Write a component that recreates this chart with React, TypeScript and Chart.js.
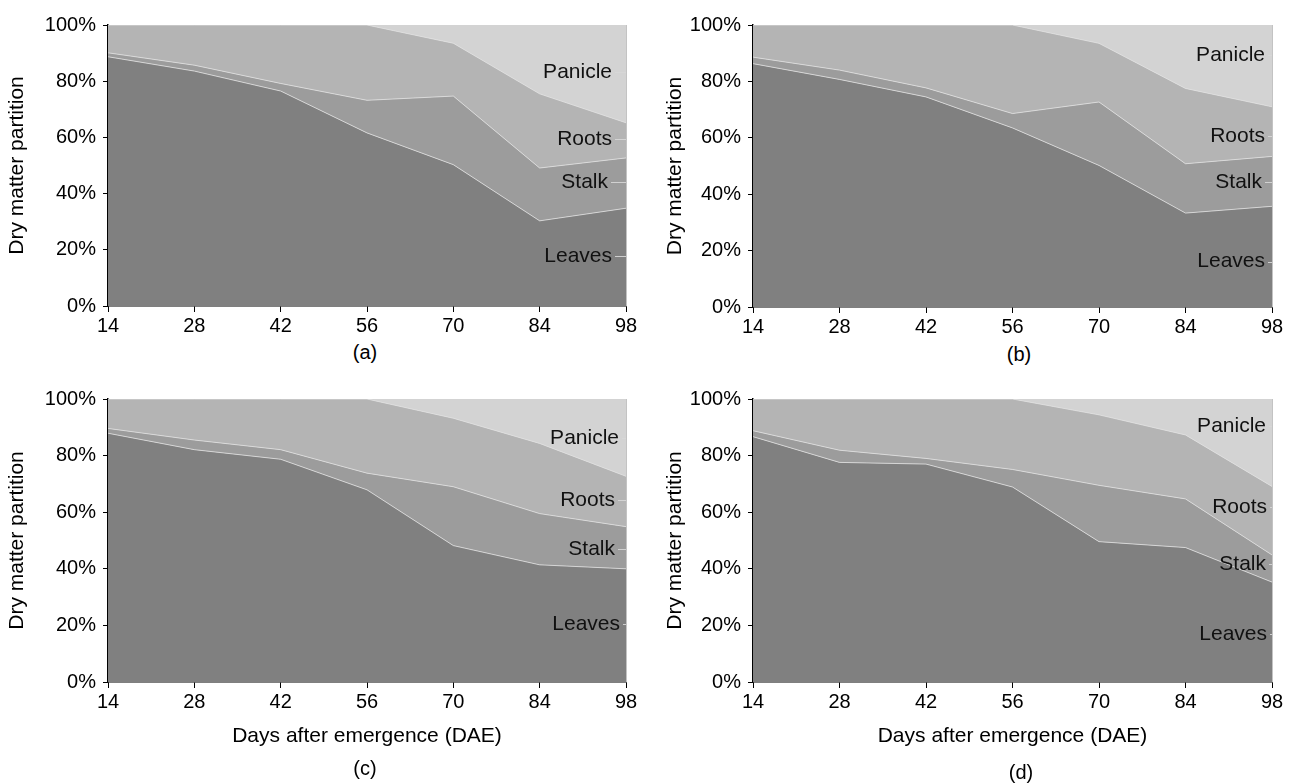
import React, { useEffect, useRef } from "react";
import { Chart, registerables } from "chart.js";

Chart.register(...registerables);

const days = [14, 28, 42, 56, 70, 84, 98];
const yTicks = [0, 20, 40, 60, 80, 100];
const seriesNames = ["Leaves", "Stalk", "Roots", "Panicle"];

// panel (a)
const leavesA = [88.7, 83.6, 76.5, 61.6, 50.3, 30.3, 34.8];
const stalkA = [1.4, 2.1, 2.7, 11.6, 24.4, 18.8, 17.9];
const rootsA = [9.9, 14.3, 20.8, 26.8, 18.8, 26.4, 12.5];
const panicleA = [0, 0, 0, 0, 6.5, 24.5, 34.8];
// panel (b)
const leavesB = [86.3, 80.7, 74.5, 63.5, 50.2, 33.3, 35.7];
const stalkB = [2.3, 3.3, 3.2, 5.1, 22.5, 17.5, 17.7];
const rootsB = [11.4, 16.0, 22.3, 31.4, 20.8, 26.7, 17.6];
const panicleB = [0, 0, 0, 0, 6.5, 22.5, 29.0];
// panel (c)
const leavesC = [87.9, 82.1, 78.7, 67.9, 48.2, 41.4, 40.0];
const stalkC = [1.7, 3.4, 3.4, 5.9, 20.8, 18.1, 14.9];
const rootsC = [10.4, 14.5, 17.9, 26.2, 24.2, 24.8, 17.8];
const panicleC = [0, 0, 0, 0, 6.8, 15.7, 27.3];
// panel (d)
const leavesD = [86.7, 77.6, 77.0, 68.9, 49.6, 47.5, 35.3];
const stalkD = [2.1, 4.3, 2.0, 6.2, 19.9, 17.2, 9.6];
const rootsD = [11.2, 18.1, 21.0, 24.9, 24.9, 22.6, 24.2];
const panicleD = [0, 0, 0, 0, 5.6, 12.7, 30.9];

// in-plot series label anchor values (in % units) for Panicle, Roots, Stalk, Leaves
const labelValuesA = [83.3, 59.5, 44.0, 17.8];
const labelValuesB = [89.2, 60.5, 44.2, 16.1];
const labelValuesC = [86.1, 64.4, 47.0, 20.4];
const labelValuesD = [90.3, 61.8, 41.6, 17.0];
const labelNames = ["Panicle", "Roots", "Stalk", "Leaves"];

const yTitle = "Dry matter partition";
const xTitle = "Days after emergence (DAE)";
const captions = ["(a)", "(b)", "(c)", "(d)"];

const FONT = "'Liberation Sans', Arial, Helvetica, sans-serif";
const fillColors = ["#808080", "#9c9c9c", "#b4b4b4", "#d3d3d3"];

type PanelCfg = {
  series: number[][];
  labelValues: number[];
  labelGaps: number[];
  canvas: { left: number; top: number; width: number; height: number };
  plot: { l: number; r: number; t: number; b: number };
  showXTitle: boolean;
  xTitleCenter?: number;
  caption: string;
  captionPos: { x: number; y: number };
};

const panels: PanelCfg[] = [
  {
    series: [leavesA, stalkA, rootsA, panicleA],
    labelValues: labelValuesA,
    labelGaps: [14, 14, 18, 14],
    canvas: { left: 0, top: 0, width: 646, height: 340 },
    plot: { l: 108, r: 626, t: 25, b: 306 },
    showXTitle: false,
    caption: captions[0],
    captionPos: { x: 365, y: 352 },
  },
  {
    series: [leavesB, stalkB, rootsB, panicleB],
    labelValues: labelValuesB,
    labelGaps: [7, 7, 10, 7],
    canvas: { left: 658, top: 0, width: 635, height: 340 },
    plot: { l: 753, r: 1272, t: 25, b: 307 },
    showXTitle: false,
    caption: captions[1],
    captionPos: { x: 1019, y: 354 },
  },
  {
    series: [leavesC, stalkC, rootsC, panicleC],
    labelValues: labelValuesC,
    labelGaps: [7, 11, 11, 6],
    canvas: { left: 0, top: 370, width: 646, height: 414 },
    plot: { l: 108, r: 626, t: 399, b: 682 },
    showXTitle: true,
    xTitleCenter: 736,
    caption: captions[2],
    captionPos: { x: 365, y: 768 },
  },
  {
    series: [leavesD, stalkD, rootsD, panicleD],
    labelValues: labelValuesD,
    labelGaps: [6, 5, 6, 5],
    canvas: { left: 658, top: 370, width: 635, height: 414 },
    plot: { l: 753, r: 1272, t: 399, b: 682 },
    showXTitle: true,
    xTitleCenter: 736,
    caption: captions[3],
    captionPos: { x: 1021, y: 772 },
  },
];

function Panel({ cfg }: { cfg: PanelCfg }) {
  const ref = useRef<HTMLCanvasElement | null>(null);
  useEffect(() => {
    if (!ref.current) return;
    const { canvas: c, plot: p } = cfg;
    const canvasBottom = c.top + c.height;
    const canvasRight = c.left + c.width;
    const xTitleFont = 21;
    const xTitleLH = xTitleFont * 1.2;
    const xTitlePadBottom = cfg.showXTitle
      ? canvasBottom - (cfg.xTitleCenter as number) - xTitleLH / 2
      : 4;

    const labelPlugin = {
      id: "seriesLabels",
      afterDatasetsDraw(chart: any) {
        const { ctx, chartArea, scales } = chart;
        ctx.save();
        ctx.strokeStyle = "rgba(195,195,195,1)";
        ctx.lineWidth = 1;
        ctx.beginPath();
        ctx.moveTo(chartArea.right + 0.5, chartArea.top);
        ctx.lineTo(chartArea.right + 0.5, chartArea.bottom);
        ctx.stroke();
        ctx.font = `21px ${FONT}`;
        ctx.textAlign = "right";
        ctx.textBaseline = "middle";
        cfg.labelValues.forEach((v, i) => {
          const y = scales.y.getPixelForValue(v);
          const xEnd = chartArea.right - cfg.labelGaps[i];
          ctx.fillStyle = "#111";
          ctx.fillText(labelNames[i], xEnd, y);
          ctx.strokeStyle = "rgba(215,215,215,0.9)";
          ctx.beginPath();
          ctx.moveTo(xEnd + 3, Math.round(y) + 0.5);
          ctx.lineTo(chartArea.right, Math.round(y) + 0.5);
          ctx.stroke();
        });
        ctx.restore();
      },
    };

    const datasets = cfg.series.map((vals, i) => ({
      label: seriesNames[i],
      data: vals.map((v, j) => ({ x: days[j], y: v })),
      backgroundColor: fillColors[i],
      borderColor: i === 3 ? "rgba(0,0,0,0)" : "rgba(225,225,225,0.8)",
      borderWidth: i === 3 ? 0 : 1,
      fill: i === 0 ? "origin" : "-1",
      pointRadius: 0,
      tension: 0,
    }));

    const chart = new Chart(ref.current, {
      type: "line",
      data: { datasets },
      plugins: [labelPlugin],
      options: {
        animation: false,
        responsive: false,
        devicePixelRatio: 1,
        layout: {
          padding: {
            top: p.t - c.top,
            right: canvasRight - p.r,
            left: 0,
            bottom: 0,
          },
        },
        plugins: {
          legend: { display: false },
          tooltip: { enabled: false },
          title: { display: false },
        },
        scales: {
          x: {
            type: "linear",
            min: 14,
            max: 98,
            afterFit: (scale: any) => {
              scale.height = canvasBottom - p.b;
            },
            afterBuildTicks: (scale: any) => {
              scale.ticks = days.map((d) => ({ value: d }));
            },
            ticks: {
              color: "#000",
              font: { family: FONT, size: 20 },
              padding: 2,
              maxRotation: 0,
              autoSkip: false,
            },
            grid: {
              display: true,
              drawOnChartArea: false,
              drawTicks: true,
              tickLength: 6,
              color: "#000",
            },
            border: { display: true, color: "#000", width: 1.5 },
            title: {
              display: cfg.showXTitle,
              text: xTitle,
              color: "#000",
              font: { family: FONT, size: xTitleFont },
              padding: { top: 4, bottom: xTitlePadBottom },
            },
          },
          y: {
            type: "linear",
            stacked: true,
            min: 0,
            max: 100,
            afterFit: (scale: any) => {
              scale.width = p.l - c.left;
            },
            afterBuildTicks: (scale: any) => {
              scale.ticks = yTicks.map((v) => ({ value: v }));
            },
            ticks: {
              color: "#000",
              font: { family: FONT, size: 20 },
              padding: 7,
              callback: (v: any) => `${v}%`,
            },
            grid: {
              display: true,
              drawOnChartArea: false,
              drawTicks: true,
              tickLength: 5,
              color: "#000",
            },
            border: { display: true, color: "#000", width: 1.5 },
            title: {
              display: true,
              text: yTitle,
              color: "#000",
              font: { family: FONT, size: 21 },
              padding: { top: 5, bottom: 4 },
            },
          },
        },
      } as any,
    });
    return () => chart.destroy();
  }, [cfg]);

  const { canvas: c } = cfg;
  return (
    <>
      <canvas
        ref={ref}
        width={c.width}
        height={c.height}
        style={{
          position: "absolute",
          left: c.left,
          top: c.top,
          width: c.width,
          height: c.height,
        }}
      />
      <div
        style={{
          position: "absolute",
          left: cfg.captionPos.x,
          top: cfg.captionPos.y,
          transform: "translate(-50%, -50%)",
          fontFamily: FONT,
          fontSize: 20,
          lineHeight: 1,
          color: "#000",
          whiteSpace: "nowrap",
        }}
      >
        {cfg.caption}
      </div>
    </>
  );
}

export default function App() {
  return (
    <div
      style={{
        position: "absolute",
        left: 0,
        top: 0,
        width: 1293,
        height: 784,
        background: "#fff",
        overflow: "hidden",
      }}
    >
      {panels.map((cfg, i) => (
        <Panel key={i} cfg={cfg} />
      ))}
    </div>
  );
}
